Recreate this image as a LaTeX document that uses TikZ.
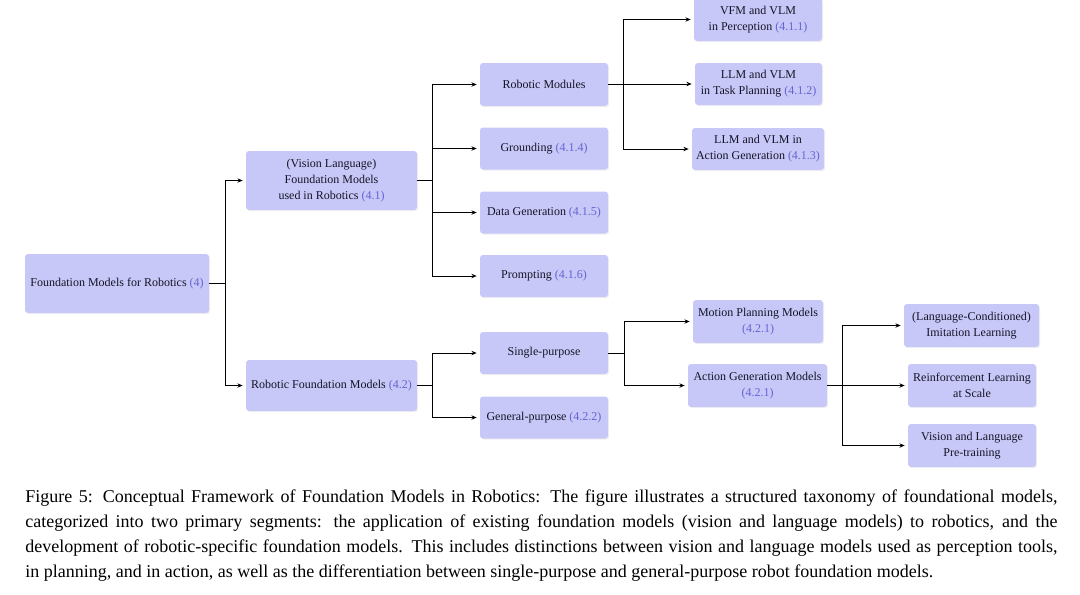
\documentclass[tikz,border=0pt]{standalone}
\usepackage{fontspec}
\setmainfont{Liberation Serif}
\usetikzlibrary{arrows.meta,shadows}
\definecolor{boxfill}{RGB}{200,200,248}
\definecolor{numc}{RGB}{100,100,210}
\definecolor{txtc}{RGB}{20,20,40}
\newcommand\secnum[1]{\textcolor{numc}{(#1)}}
\begin{document}
\begin{tikzpicture}[x=0.5pt,y=-0.5pt,
  box/.style={draw=none, fill=boxfill, rounded corners=1.5pt, align=center, inner sep=0pt,
    font=\fontsize{6}{8}\selectfont, text=txtc,
    drop shadow={opacity=0.12, shadow xshift=0.6pt, shadow yshift=-0.6pt}},
  sz/.style 2 args={minimum width=#1*0.5pt, minimum height=#2*0.5pt},
  conn/.style={draw=black, line width=0.4pt, -{Stealth[length=2.6pt,width=2.2pt]}, shorten >=1.5pt},
  link/.style={draw=black, line width=0.4pt}]
\useasboundingbox (0,0) rectangle (1080,594);
% level 1
\node[box, sz={184}{59}] (root) at (117,283.5) {Foundation Models for Robotics \secnum{4}};
% level 2
\node[box, sz={171}{59}] (vlfm) at (331.5,180.5) {(Vision Language)\\Foundation Models\\used in Robotics \secnum{4.1}};
\node[box, sz={171}{51}] (rfm) at (331.5,385.5) {Robotic Foundation Models \secnum{4.2}};
% level 3
\node[box, sz={128}{43}] (rm) at (544,84.5) {Robotic Modules};
\node[box, sz={128}{42}] (gr) at (544,148.5) {Grounding \secnum{4.1.4}};
\node[box, sz={128}{42}] (dg) at (544,212.5) {Data Generation \secnum{4.1.5}};
\node[box, sz={128}{42}] (pr) at (544,276) {Prompting \secnum{4.1.6}};
\node[box, sz={128}{42}] (sp) at (544,353) {Single-purpose};
\node[box, sz={128}{42}] (gp) at (544,417.5) {General-purpose \secnum{4.2.2}};
% level 4
\node[box, sz={128}{43}] (p1) at (758,19.5) {VFM and VLM\\in Perception \secnum{4.1.1}};
\node[box, sz={127}{42}] (p2) at (758.5,84) {LLM and VLM\\in Task Planning \secnum{4.1.2}};
\node[box, sz={132}{42}] (p3) at (758,149) {LLM and VLM in\\Action Generation \secnum{4.1.3}};
\node[box, sz={130}{43}] (mp) at (758,321.5) {Motion Planning Models\\\secnum{4.2.1}};
\node[box, sz={139}{43}] (ag) at (757.5,385.5) {Action Generation Models\\\secnum{4.2.1}};
% level 5
\node[box, sz={135}{43}] (lc) at (971.5,325.5) {(Language-Conditioned)\\Imitation Learning};
\node[box, sz={128}{43}] (rl) at (972,385.5) {Reinforcement Learning\\at Scale};
\node[box, sz={128}{43}] (vl) at (972,445.5) {Vision and Language\\Pre-training};
% connectors
\draw[link] (root.east) -- ++(16,0) coordinate (j0);
\draw[conn] (j0) |- (vlfm.west);
\draw[conn] (j0) |- (rfm.west);
\draw[link] (vlfm.east) -- ++(15,0) coordinate (j1);
\foreach \n in {rm,gr,dg,pr} \draw[conn] (j1) |- (\n.west);
\draw[link] (rfm.east) -- ++(15,0) coordinate (j2);
\foreach \n in {sp,gp} \draw[conn] (j2) |- (\n.west);
\draw[link] (rm.east) -- ++(15,0) coordinate (j3);
\foreach \n in {p1,p2,p3} \draw[conn] (j3) |- (\n.west);
\draw[link] (sp.east) -- ++(16,0) coordinate (j4);
\foreach \n in {mp,ag} \draw[conn] (j4) |- (\n.west);
\draw[link] (ag.east) -- ++(15,0) coordinate (j5);
\foreach \n in {lc,rl,vl} \draw[conn] (j5) |- (\n.west);
% caption
\node[anchor=north west, inner sep=0pt, text width=516pt, align=justify,
  font=\fontsize{9}{12.65}\selectfont, text=black] (cap) at (25,489)
{Figure 5: Conceptual Framework of Foundation Models in Robotics: The figure illustrates a structured taxonomy of foundational models,\linebreak
categorized into two primary segments: the application of existing foundation models (vision and language models) to robotics, and the\linebreak
development of robotic-specific foundation models. This includes distinctions between vision and language models used as perception tools,\linebreak
in planning, and in action, as well as the differentiation between single-purpose and general-purpose robot foundation models.};
\end{tikzpicture}
\end{document}
